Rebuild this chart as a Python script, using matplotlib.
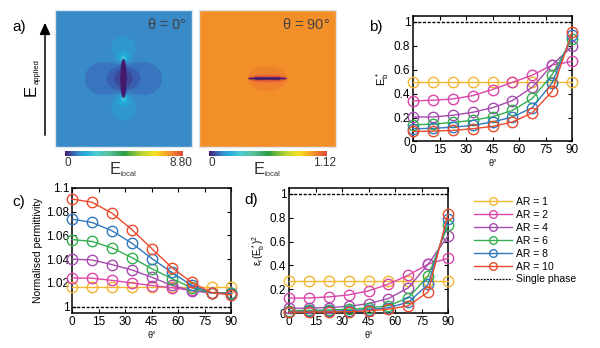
import numpy as np
import matplotlib
matplotlib.use('Agg')
import matplotlib.pyplot as plt
from matplotlib.colors import LinearSegmentedColormap
from matplotlib.patches import FancyArrowPatch
from matplotlib.lines import Line2D

plt.rcParams['font.family'] = ['Liberation Sans', 'DejaVu Sans']
plt.rcParams['mathtext.default'] = 'regular'
plt.rcParams['axes.linewidth'] = 1.1

W, H = 600, 348

# angle between field and particle axis
theta = [0, 11.25, 22.5, 33.75, 45, 56.25, 67.5, 78.75, 90]
ar_labels = ['AR = 1', 'AR = 2', 'AR = 4', 'AR = 6', 'AR = 8', 'AR = 10']
ar_colors = ['#F2B631', '#DC46AA', '#A64BAF', '#33AF50', '#3278BE', '#EB4B2D']

# b) normalised breakdown field E_b*
eb_ar1 = [0.50, 0.50, 0.50, 0.50, 0.50, 0.50, 0.50, 0.50, 0.50]
eb_ar2 = [0.34, 0.345, 0.356, 0.384, 0.435, 0.495, 0.555, 0.64, 0.67]
eb_ar4 = [0.205, 0.205, 0.22, 0.244, 0.283, 0.342, 0.454, 0.64, 0.795]
eb_ar6 = [0.14, 0.145, 0.16, 0.177, 0.207, 0.26, 0.36, 0.56, 0.86]
eb_ar8 = [0.107, 0.11, 0.12, 0.135, 0.163, 0.205, 0.283, 0.49, 0.89]
eb_ar10 = [0.084, 0.087, 0.093, 0.107, 0.126, 0.163, 0.24, 0.42, 0.915]

# c) normalised permittivity
perm_ar1 = [1.0162, 1.0162, 1.0162, 1.0162, 1.0162, 1.0162, 1.0162, 1.0162, 1.0162]
perm_ar2 = [1.0242, 1.0240, 1.0222, 1.0200, 1.0178, 1.0160, 1.0138, 1.0118, 1.0114]
perm_ar4 = [1.0400, 1.0394, 1.0355, 1.0310, 1.0248, 1.0180, 1.0135, 1.0116, 1.0112]
perm_ar6 = [1.0566, 1.0550, 1.0496, 1.0414, 1.0320, 1.0237, 1.0160, 1.0116, 1.0112]
perm_ar8 = [1.0738, 1.0710, 1.0640, 1.0535, 1.0406, 1.0290, 1.0180, 1.0117, 1.0110]
perm_ar10 = [1.0907, 1.0880, 1.0789, 1.0650, 1.0490, 1.0330, 1.0206, 1.0118, 1.0099]

# d) energy density eps*(E_b*)^2
en_ar1 = [0.265, 0.265, 0.265, 0.265, 0.265, 0.265, 0.265, 0.265, 0.265]
en_ar2 = [0.125, 0.126, 0.135, 0.152, 0.186, 0.242, 0.318, 0.41, 0.46]
en_ar4 = [0.040, 0.041, 0.046, 0.056, 0.079, 0.121, 0.211, 0.41, 0.648]
en_ar6 = [0.021, 0.022, 0.025, 0.031, 0.042, 0.062, 0.127, 0.31, 0.74]
en_ar8 = [0.012, 0.013, 0.015, 0.019, 0.028, 0.045, 0.09, 0.24, 0.79]
en_ar10 = [0.007, 0.008, 0.009, 0.011, 0.018, 0.032, 0.06, 0.177, 0.833]

x_ticks = [0, 15, 30, 45, 60, 75, 90]
y_ticks_01 = [0, 0.2, 0.4, 0.6, 0.8, 1]
y_labels_01 = ['0', '0.2', '0.4', '0.6', '0.8', '1']
y_ticks_perm = [1, 1.02, 1.04, 1.06, 1.08, 1.1]
y_labels_perm = ['1', '1.02', '1.04', '1.06', '1.08', '1.1']


def rect(x0, y0, x1, y1):
    # pixel box (from top left) -> figure fraction
    return [x0 / W, 1 - y1 / H, (x1 - x0) / W, (y1 - y0) / H]


def pt(x, y):
    return x / W, 1 - y / H


# colour map of the field plots
field_cmap = LinearSegmentedColormap.from_list('field', [
    (0.00, (0.27, 0.10, 0.42)),
    (0.07, (0.22, 0.40, 0.72)),
    (0.11, (0.22, 0.56, 0.79)),
    (0.17, (0.12, 0.68, 0.86)),
    (0.26, (0.30, 0.80, 0.85)),
    (0.38, (0.35, 0.75, 0.60)),
    (0.50, (0.16, 0.62, 0.28)),
    (0.64, (0.70, 0.82, 0.20)),
    (0.76, (0.97, 0.89, 0.16)),
    (0.88, (0.96, 0.60, 0.15)),
    (1.00, (0.88, 0.28, 0.24)),
]).resampled(48)


def q11(x):
    return np.sqrt(x**2 - 1) * (0.5 * np.log((x + 1) / (x - 1)) - x / (x**2 - 1))


def grid(n=300):
    g = np.linspace(-1, 1, n)
    return g, np.meshgrid(g, g)


def cylinder_axial_field(a, b, k, n=300):
    # |E| around a dielectric elliptic cylinder, field along its long (vertical) axis
    g, (u, v) = grid(n)
    c = np.sqrt(a**2 - b**2)
    xi0 = np.arctanh(b / a)
    A = (k - 1) * np.sinh(xi0) * np.exp(xi0) / (1 + k * np.tanh(xi0))
    C = (1 + np.tanh(xi0)) / (1 + k * np.tanh(xi0))
    inside = (v / a)**2 + (u / b)**2 < 1
    with np.errstate(all='ignore'):
        zeta = np.arccosh((v + 1j * u) / c)
        phi_out = -v + A * c * np.real(np.exp(-zeta))
    phi = np.where(inside, -C * v, phi_out)
    gy, gx = np.gradient(phi, g[1] - g[0])
    e = np.hypot(gx, gy)
    e[inside] = 0
    return e


def spheroid_transverse_field(a, b, k, n=300):
    # |E| around a dielectric prolate spheroid, long axis horizontal, field vertical
    g, (z, rho) = grid(n)
    c = np.sqrt(a**2 - b**2)
    xi0 = a / c
    h = 1e-6
    inside = (z / a)**2 + (rho / b)**2 < 1
    with np.errstate(all='ignore'):
        r1 = np.hypot(z - c, rho)
        r2 = np.hypot(z + c, rho)
        xi = np.maximum((r1 + r2) / (2 * c), 1 + 1e-9)
        eta = np.clip((r2 - r1) / (2 * c), -1, 1)
        f0 = np.sqrt(xi0**2 - 1)
        dq = (q11(xi0 + h) - q11(xi0 - h)) / (2 * h)
        r = f0 * dq / (q11(xi0) * xi0 / f0)
        C = (1 - r) / (k - r)
        D = (1 - C) * c * f0 / q11(xi0)
        phi_out = -rho + D * q11(xi) * np.sqrt(1 - eta**2) * np.sign(rho)
        phi = np.where(inside, -C * rho, phi_out)
    gy, gx = np.gradient(phi, g[1] - g[0])
    e = np.hypot(gx, gy)
    e[inside] = 0
    return e


fig = plt.figure(figsize=(6, 3.48), dpi=100)

# a) field maps
maps = [(cylinder_axial_field(0.29, 0.045, 15), 8.80, '0', '8.80', r'$\theta$ = 0°', 55),
        (spheroid_transverse_field(0.29, 0.022, 1.6), 1.12, '0', '1.12', r'$\theta$ = 90°', 199)]
for field, vmax, lo, hi, title, x0 in maps:
    ax = fig.add_axes(rect(x0, 10, x0 + 137, 147))
    ax.imshow(field, cmap=field_cmap, vmin=0, vmax=vmax, origin='lower',
              extent=[-1, 1, -1, 1], interpolation='bilinear')
    ax.set_xticks([])
    ax.set_yticks([])
    for s in ax.spines.values():
        s.set_color('#dde6ee')
        s.set_linewidth(1.0)
    ax.text(0.96, 0.95, title, transform=ax.transAxes, ha='right', va='top',
            fontsize=10.5, color='#444444')

    cax = fig.add_axes(rect(x0 + 10, 151, x0 + 128, 156))
    cax.imshow(np.linspace(0, 1, 256)[None, :], cmap=field_cmap.resampled(256),
               aspect='auto', extent=[0, 1, 0, 1])
    cax.axis('off')
    fig.text(*pt(x0 + 13, 163), lo, ha='center', va='center', fontsize=8.5, color='#333333')
    fig.text(*pt(x0 + 126, 163), hi, ha='center', va='center', fontsize=8.5, color='#333333')
    fig.text(*pt(x0 + 60, 170), 'E', ha='center', va='center', fontsize=12, color='#333333')
    fig.text(*pt(x0 + 73, 175), 'local', ha='center', va='center', fontsize=5.5, color='#333333')

fig.text(*pt(19, 27), 'a)', ha='center', va='center', fontsize=11)
fig.add_artist(FancyArrowPatch(pt(45, 138), pt(45, 20), transform=fig.transFigure,
                               arrowstyle='-|>,head_width=3.2,head_length=7',
                               color='black', lw=1.1))
fig.text(*pt(31, 90), 'E', rotation=90, ha='center', va='center', fontsize=12)
fig.text(*pt(37.5, 72), 'applied', rotation=90, ha='center', va='center', fontsize=5.5)


def line_panel(box, series, ylim, yticks, ylabels, ylabel, ylabel_size, label, label_xy):
    ax = fig.add_axes(rect(*box))
    for vals, col in zip(series, ar_colors):
        ax.plot(theta, vals, color=col, lw=1.0, marker='o', ms=7.5, mfc='none',
                mec=col, mew=1.0, clip_on=False, zorder=3)
    ax.axhline(1, color='black', lw=1.0, ls=(0, (2.2, 1.2)), zorder=2)
    ax.set_xlim(0, 90)
    ax.set_ylim(*ylim)
    ax.set_xticks(x_ticks)
    ax.set_yticks(yticks)
    ax.set_yticklabels(ylabels)
    ax.tick_params(direction='in', top=True, right=True, length=3, width=0.8,
                   labelsize=8.5, pad=2)
    ax.set_xlabel('θ°', fontsize=6.5, labelpad=2)
    ax.set_ylabel(ylabel, fontsize=ylabel_size, labelpad=2)
    fig.text(*pt(*label_xy), label, ha='center', va='center', fontsize=11)
    return ax


line_panel((413, 16.5, 572, 141.5), [eb_ar1, eb_ar2, eb_ar4, eb_ar6, eb_ar8, eb_ar10],
           (0, 1.046), y_ticks_01, y_labels_01, r'$E^*_b$', 8, 'b)', (376, 27))
line_panel((72, 188, 231.5, 313), [perm_ar1, perm_ar2, perm_ar4, perm_ar6, perm_ar8, perm_ar10],
           (0.9947, 1.1), y_ticks_perm, y_labels_perm, 'Normalised permittivity', 7.5,
           'c)', (19, 202))
line_panel((289, 188, 448, 313), [en_ar1, en_ar2, en_ar4, en_ar6, en_ar8, en_ar10],
           (0, 1.05), y_ticks_01, y_labels_01, r'$\epsilon_r(E^*_b)^2$', 7, 'd)', (251, 200))

# legend
handles = [Line2D([], [], color=c, lw=1.0, marker='o', ms=5.5, mfc='none', mec=c)
           for c in ar_colors]
handles.append(Line2D([], [], color='black', lw=0.9, ls=(0, (1.5, 1))))
labels = ar_labels + ['Single phase']
fig.legend(handles, labels, loc='upper left', bbox_to_anchor=pt(474, 197), frameon=False,
           fontsize=7.5, handlelength=3.6, handletextpad=0.4, labelspacing=0.28,
           borderaxespad=0, borderpad=0)

fig.savefig('out.png', dpi=100)
